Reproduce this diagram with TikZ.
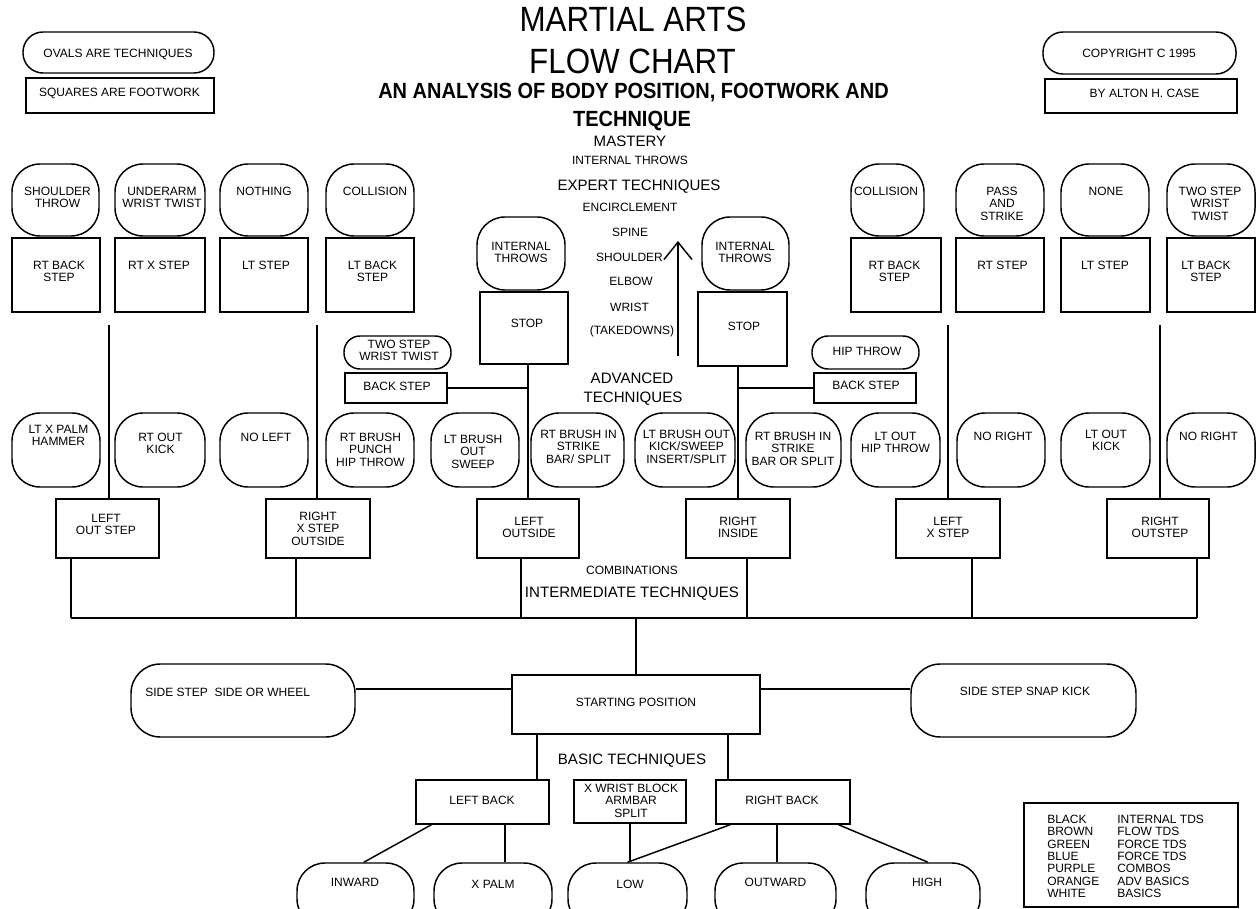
\documentclass[tikz,border=0pt]{standalone}
\usepackage{fontspec}
\setmainfont{Liberation Sans}
\usetikzlibrary{calc,arrows.meta}
\newcommand\lblfont{\fontsize{9}{9.25}\selectfont}
\newcommand\headfont{\fontsize{11.3}{13}\selectfont}
\newcommand\titlefont{\fontsize{23.5}{28}\selectfont}
\newcommand\subfont{\fontsize{15}{18}\selectfont\bfseries}

\begin{document}
\begin{tikzpicture}[x=0.75pt,y=0.75pt,yscale=-1,xscale=1,
  wh/.style 2 args={minimum width=#1*0.75pt,minimum height=#2*0.75pt},
  oval/.style={draw,line width=1.1pt,rounded corners=21pt,inner sep=0pt},
  sq/.style={draw,line width=1.1pt,inner sep=0pt},
  lbl/.style={font=\lblfont,align=center,inner sep=0pt,anchor=north},
  note/.style={font=\lblfont,inner sep=0pt,anchor=base},
  head/.style={font=\headfont,inner sep=0pt,anchor=base},
  link/.style={line width=1.1pt}]
%set diagram to 1256 x 909
\useasboundingbox (0,0) rectangle (1256,909);
\clip (0,0) rectangle (1256,909);

% Title
\node[font=\titlefont,inner sep=0pt,anchor=base] (title1) at (633,32) {\scalebox{1}[1.12]{MARTIAL ARTS}};
\node[font=\titlefont,inner sep=0pt,anchor=base] (title2) at (632.5,74) {\scalebox{1}[1.12]{FLOW CHART}};
\node[font=\subfont,inner sep=0pt,anchor=base] (subtitle1) at (633.5,99) {\scalebox{1}[1.1]{AN ANALYSIS OF BODY POSITION, FOOTWORK AND}};
\node[font=\subfont,inner sep=0pt,anchor=base] (subtitle2) at (632,127) {\scalebox{1}[1.1]{TECHNIQUE}};

% Key, top left and top right
\node[oval,rounded corners=15pt,wh={191}{41}] (ovalkey) at (118.5,52.5) {};
\node[lbl] (t-ovalkey) at (118,49) {OVALS ARE TECHNIQUES};
\node[sq,wh={188}{35}] (squarekey) at (120,95.5) {};
\node[lbl] (t-squarekey) at (119.5,88) {SQUARES ARE FOOTWORK};
\node[oval,rounded corners=15pt,wh={193}{42}] (copyright) at (1139.5,53) {};
\node[lbl] (t-copyright) at (1139,49) {COPYRIGHT C 1995};
\node[sq,wh={192}{34}] (author) at (1141,96) {};
\node[lbl] (t-author) at (1144.5,89) {BY ALTON H. CASE};

% Levels in the middle
\node[head] (mastery) at (630,147) {MASTERY};
\node[note] (intthrows) at (630,165) {INTERNAL THROWS};
\node[head] (expert) at (639,191) {EXPERT TECHNIQUES};
\node[note] (encircle) at (630,212) {ENCIRCLEMENT};
\node[note] (spine) at (630,237) {SPINE};
\node[note] (shoulder) at (629.5,262) {SHOULDER};
\node[note] (elbow) at (631,286) {ELBOW};
\node[note] (wrist) at (629.5,311) {WRIST};
\node[note] (takedowns) at (632,334) {(TAKEDOWNS)};
\node[head] (advanced) at (632,383) {ADVANCED};
\node[head] (advanced2) at (633,402) {TECHNIQUES};
\node[note] (combos) at (632,574) {COMBINATIONS};
\node[head] (intermediate) at (632,597) {INTERMEDIATE TECHNIQUES};
\node[head] (basic) at (632,764) {BASIC TECHNIQUES};

\coordinate (arrlow) at (678,356);
\coordinate (arrhigh) at (678,241);
\draw[link,-{Straight Barb[length=13pt,width=21pt]}] (arrlow) -- (arrhigh);

% Top row: techniques
\node[oval,wh={87}{72}] (shthrow) at (55.5,200) {};
\node[lbl] (t-shthrow) at (57.5,187) {SHOULDER\\THROW};
\node[oval,wh={90}{72}] (underarm) at (160,200) {};
\node[lbl] (t-underarm) at (162,187) {UNDERARM\\WRIST TWIST};
\node[oval,wh={88}{72}] (nothing) at (264,200) {};
\node[lbl] (t-nothing) at (264,187) {NOTHING};
\node[oval,wh={88}{72}] (collisionL) at (370,200) {};
\node[lbl] (t-collisionL) at (375,187) {COLLISION};
\node[oval,wh={73}{72}] (collisionR) at (887.5,200) {};
\node[lbl] (t-collisionR) at (886,187) {COLLISION};
\node[oval,wh={88}{72}] (passstrike) at (1000,200) {};
\node[lbl] (t-passstrike) at (1002,187) {PASS\\AND\\STRIKE};
\node[oval,wh={88}{72}] (none) at (1105,200) {};
\node[lbl] (t-none) at (1106,187) {NONE};
\node[oval,wh={88}{72}] (twostepR) at (1211,200) {};
\node[lbl] (t-twostepR) at (1210,187) {TWO STEP\\WRIST\\TWIST};

% Top row: footwork
\node[sq,wh={88}{74}] (rtbackL) at (56,275) {};
\node[lbl] (t-rtbackL) at (59,261) {RT BACK\\STEP};
\node[sq,wh={90}{74}] (rtx) at (160,275) {};
\node[lbl] (t-rtx) at (159,261) {RT X STEP};
\node[sq,wh={88}{74}] (ltstepL) at (264,275) {};
\node[lbl] (t-ltstepL) at (266,261) {LT STEP};
\node[sq,wh={88}{74}] (ltbackL) at (370,275) {};
\node[lbl] (t-ltbackL) at (372.5,261) {LT BACK\\STEP};
\node[sq,wh={90}{74}] (rtbackR) at (896,275) {};
\node[lbl] (t-rtbackR) at (894.5,261) {RT BACK\\STEP};
\node[sq,wh={88}{74}] (rtstep) at (1000,275) {};
\node[lbl] (t-rtstep) at (1002.5,261) {RT STEP};
\node[sq,wh={89}{74}] (ltstepR) at (1105.5,275) {};
\node[lbl] (t-ltstepR) at (1105,261) {LT STEP};
\node[sq,wh={88}{74}] (ltbackR) at (1211,275) {};
\node[lbl] (t-ltbackR) at (1206,261) {LT BACK\\STEP};

% Centre: stops
\node[oval,wh={88}{73}] (intthrL) at (521,253.5) {};
\node[lbl] (t-intthrL) at (521,242) {INTERNAL\\THROWS};
\node[sq,wh={88}{72}] (stopL) at (524,328) {};
\node[lbl] (t-stopL) at (527,319) {STOP};
\node[oval,wh={87}{73}] (intthrR) at (745.5,253.5) {};
\node[lbl] (t-intthrR) at (745,242) {INTERNAL\\THROWS};
\node[sq,wh={89}{74}] (stopR) at (742.5,329) {};
\node[lbl] (t-stopR) at (744,322) {STOP};

\node[oval,rounded corners=12pt,wh={107}{33}] (twostepL) at (397.5,352.5) {};
\node[lbl] (t-twostepL) at (399,340) {TWO STEP\\WRIST TWIST};
\node[sq,wh={102}{30}] (backstepL) at (396,388) {};
\node[lbl] (t-backstepL) at (397,382) {BACK STEP};
\node[oval,rounded corners=12pt,wh={107}{33}] (hipthrow) at (865.5,352.5) {};
\node[lbl] (t-hipthrow) at (867,347) {HIP THROW};
\node[sq,wh={102}{30}] (backstepR) at (865,388) {};
\node[lbl] (t-backstepR) at (866,381) {BACK STEP};

% Middle row: techniques
\node[oval,wh={88}{74}] (ltxpalm) at (56,450) {};
\node[lbl] (t-ltxpalm) at (58.5,425) {LT X PALM\\HAMMER};
\node[oval,wh={90}{74}] (rtoutkick) at (160,450) {};
\node[lbl] (t-rtoutkick) at (160.5,433) {RT OUT\\KICK};
\node[oval,wh={88}{74}] (noleft) at (264,450) {};
\node[lbl] (t-noleft) at (266,433) {NO LEFT};
\node[oval,wh={88}{74}] (rtbrushpunch) at (370,450) {};
\node[lbl] (t-rtbrushpunch) at (370.5,433) {RT BRUSH\\PUNCH\\HIP THROW};
\node[oval,wh={88}{74}] (ltbrushsweep) at (475,450) {};
\node[lbl] (t-ltbrushsweep) at (473,435) {LT BRUSH\\OUT\\SWEEP};
\node[oval,wh={93}{74}] (rtbrushbar) at (577.5,450) {};
\node[lbl] (t-rtbrushbar) at (578.5,430) {RT BRUSH IN\\STRIKE\\BAR/ SPLIT};
\node[oval,wh={100}{74}] (ltbrushkick) at (685,450) {};
\node[lbl] (t-ltbrushkick) at (686.5,430) {LT BRUSH OUT\\KICK/SWEEP\\INSERT/SPLIT};
\node[oval,wh={95}{74}] (rtbrushsplit) at (793.5,450) {};
\node[lbl] (t-rtbrushsplit) at (793,432) {RT BRUSH IN\\STRIKE\\BAR OR SPLIT};
\node[oval,wh={89}{74}] (ltouthip) at (895.5,450) {};
\node[lbl] (t-ltouthip) at (895.5,432) {LT OUT\\HIP THROW};
\node[oval,wh={88}{74}] (norightA) at (1001,450) {};
\node[lbl] (t-norightA) at (1003,432) {NO RIGHT};
\node[oval,wh={89}{74}] (ltoutkick) at (1105.5,450) {};
\node[lbl] (t-ltoutkick) at (1106,430) {LT OUT\\KICK};
\node[oval,wh={88}{74}] (norightB) at (1211,450) {};
\node[lbl] (t-norightB) at (1208.5,432) {NO RIGHT};

% Middle row: footwork
\node[sq,wh={103}{59}] (lostep) at (107.5,528.5) {};
\node[lbl] (t-lostep) at (106,514) {LEFT\\OUT STEP};
\node[sq,wh={104}{59}] (rxstep) at (318,528.5) {};
\node[lbl] (t-rxstep) at (318,512) {RIGHT\\X STEP\\OUTSIDE};
\node[sq,wh={102}{59}] (lout) at (528,528.5) {};
\node[lbl] (t-lout) at (529,517) {LEFT\\OUTSIDE};
\node[sq,wh={104}{59}] (rin) at (738,528.5) {};
\node[lbl] (t-rin) at (738,517) {RIGHT\\INSIDE};
\node[sq,wh={104}{59}] (lxstep) at (948,528.5) {};
\node[lbl] (t-lxstep) at (948,517) {LEFT\\X STEP};
\node[sq,wh={102}{59}] (routstep) at (1158,528.5) {};
\node[lbl] (t-routstep) at (1160,517) {RIGHT\\OUTSTEP};

% Start and basics
\node[sq,wh={248}{59}] (start) at (636,704.5) {};
\node[lbl] (t-start) at (636,698) {STARTING POSITION};
\node[oval,rounded corners=22pt,wh={224}{73}] (sideL) at (243,700.5) {};
\node[lbl,anchor=north west] (t-sideL) at (145,688) {SIDE STEP\ \ SIDE OR WHEEL};
\node[oval,rounded corners=22pt,wh={225}{73}] (sideR) at (1023.5,700.5) {};
\node[lbl] (t-sideR) at (1025,687) {SIDE STEP SNAP KICK};

\node[sq,wh={133}{44}] (lback) at (482.5,802) {};
\node[lbl] (t-lback) at (482,796) {LEFT BACK};
\node[sq,wh={112}{43}] (xwrist) at (630,801.5) {};
\node[lbl] (t-xwrist) at (631,784) {X WRIST BLOCK\\ARMBAR\\SPLIT};
\node[sq,wh={134}{44}] (rback) at (783,802) {};
\node[lbl] (t-rback) at (782,796) {RIGHT BACK};

\node[oval,wh={117}{64}] (inward) at (355.5,895) {};
\node[lbl] (t-inward) at (355,878) {INWARD};
\node[oval,wh={118}{64}] (xpalm) at (493,895) {};
\node[lbl] (t-xpalm) at (493,880) {X PALM};
\node[oval,wh={119}{64}] (low) at (627.5,895) {};
\node[lbl] (t-low) at (630,880) {LOW};
\node[oval,wh={121}{64}] (outward) at (775.5,895) {};
\node[lbl] (t-outward) at (775.5,878) {OUTWARD};
\node[oval,wh={114}{64}] (high) at (923,895) {};
\node[lbl] (t-high) at (927,878) {HIGH};

% Belt colours
\node[sq,wh={214}{104}] (beltkey) at (1131,855) {};
\node[lbl,anchor=north west,align=left] (belts) at (1047,815) {BLACK\\BROWN\\GREEN\\BLUE\\PURPLE\\ORANGE\\WHITE};
\node[lbl,anchor=north west,align=left] (beltlevels) at (1117,815) {INTERNAL TDS\\FLOW TDS\\FORCE TDS\\FORCE TDS\\COMBOS\\ADV BASICS\\BASICS};

% Connectors, upper
\coordinate (u1) at (109,325);
\coordinate (u2) at (317,325);
\coordinate (u5) at (948,325);
\coordinate (u6) at (1160,325);
\draw[link] (u1) -- (u1 |- lostep.north);
\draw[link] (u2) -- (u2 |- rxstep.north);
\draw[link] (stopL.south -| lout.north) -- (lout.north);
\draw[link] (stopR.south -| rin.north) -- (rin.north);
\draw[link] (u5) -- (u5 |- lxstep.north);
\draw[link] (u6) -- (u6 |- routstep.north);
\draw[link] (backstepL.east) -- (backstepL.east -| lout.north);
\draw[link] (backstepR.west) -- (backstepR.west -| rin.north);

% Connectors, bus
\coordinate (b1) at (71,618);
\coordinate (b2) at (296,618);
\coordinate (b3) at (521,618);
\coordinate (b4) at (747,618);
\coordinate (b5) at (972,618);
\coordinate (b6) at (1197,618);
\draw[link] (b1 |- lostep.south) -- (b1);
\draw[link] (b2 |- rxstep.south) -- (b2);
\draw[link] (b3 |- lout.south) -- (b3);
\draw[link] (b4 |- rin.south) -- (b4);
\draw[link] (b5 |- lxstep.south) -- (b5);
\draw[link] (b6 |- routstep.south) -- (b6);
\draw[link] (b1) -- (b6);
\draw[link] (start.north) -- (start.north |- b1);

% Connectors, lower
\coordinate (sidelevel) at (636,689);
\draw[link] (sideL.east |- sidelevel) -- (start.west |- sidelevel);
\draw[link] (start.east |- sidelevel) -- (sideR.west |- sidelevel);
\coordinate (lbk) at (537,760);
\coordinate (rbk) at (728,760);
\draw[link] (start.south -| lbk) -- (lback.north -| lbk);
\draw[link] (start.south -| rbk) -- (rback.north -| rbk);
\draw[link] ($(lback.south west)!0.12!(lback.south east)$) -- ($(inward.north west)!0.57!(inward.north east)$);
\draw[link] ($(lback.south)+(22.5,0)$) -- ($(xpalm.north)+(12,0)$);
\draw[link] (xwrist.south) -- (xwrist.south |- low.north);
\draw[link] ($(rback.south west)!0.11!(rback.south east)$) -- (low.north);
\draw[link] ($(rback.south)+(-6,0)$) -- ($(outward.north)+(1.5,0)$);
\draw[link] ($(rback.south west)!0.91!(rback.south east)$) -- ($(high.north)+(5,0)$);

\end{tikzpicture}
\end{document}
